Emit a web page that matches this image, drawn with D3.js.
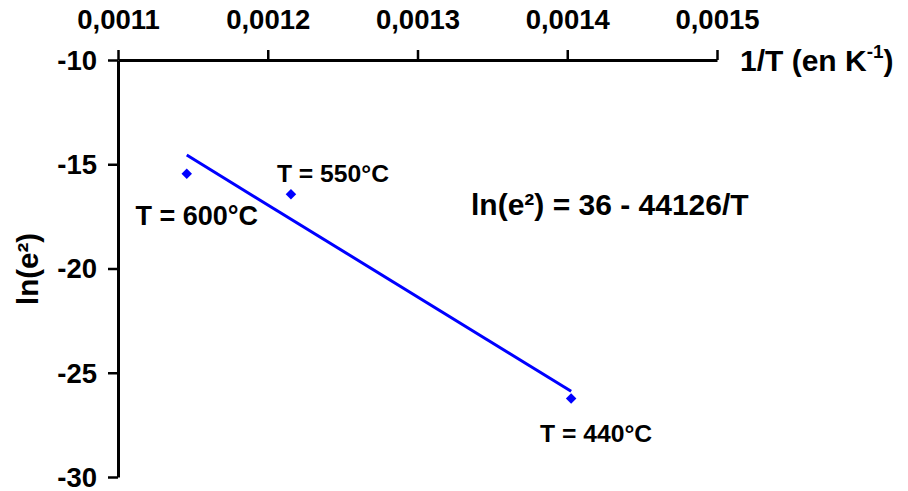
<!DOCTYPE html>
<html><head><meta charset="utf-8">
<script src="https://cdn.jsdelivr.net/npm/d3@7"></script>
<style>body{margin:0;background:#fff} svg text{font-family:"Liberation Sans",Arial,sans-serif;font-weight:bold;fill:#000}</style>
</head><body><svg id="c" width="908" height="491"></svg>
<script>
const tempLabels = ["T = 600°C", "T = 550°C", "T = 440°C"];
const invT = [0.0011459, 0.0012155, 0.0014026];
const lnE2 = [-15.46, -16.44, -26.24];
const trendX = [0.0011459, 0.0014026];
const trendY = [-14.56, -25.89];
const xTicks = [0.0011, 0.0012, 0.0013, 0.0014, 0.0015];
const xTickLabels = ["0,0011", "0,0012", "0,0013", "0,0014", "0,0015"];
const yTicks = [-10, -15, -20, -25, -30];
const yTickLabels = ["-10", "-15", "-20", "-25", "-30"];
const equation = "ln(e²) = 36 - 44126/T";

const svg = d3.select("#c");
const x = d3.scaleLinear().domain([0.0011, 0.0015]).range([118, 717]);
const y = d3.scaleLinear().domain([-10, -30]).range([60, 477]);

// x axis on top
const gx = svg.append("g").attr("transform", `translate(0,${y(-10)})`)
  .call(d3.axisTop(x).tickValues(xTicks).tickFormat((d, i) => xTickLabels[i])
    .tickSize(10).tickSizeOuter(0).tickPadding(21));
// y axis
const gy = svg.append("g").attr("transform", `translate(${x(0.0011)},0)`)
  .call(d3.axisLeft(y).tickValues(yTicks).tickFormat((d, i) => yTickLabels[i])
    .tickSize(10).tickSizeOuter(0).tickPadding(11));
[gx, gy].forEach(g => {
  g.attr("font-family", null).attr("font-size", null);
  g.select(".domain").attr("stroke", "#000").attr("stroke-width", 3);
  g.selectAll(".tick line").attr("stroke", "#000").attr("stroke-width", 2.5);
  g.selectAll(".tick text").style("font-size", "27.5px").attr("fill", "#000");
});
gy.selectAll(".tick text").attr("dy", "0.34em");

// trend line
const pts = trendX.map((v, i) => [v, trendY[i]]);
svg.append("path")
  .attr("d", d3.line().x(d => x(d[0])).y(d => y(d[1]))(pts))
  .attr("fill", "none").attr("stroke", "#0000FF").attr("stroke-width", 3);

// markers
const sym = d3.symbol().type(d3.symbolSquare).size(55);
svg.selectAll(".pt").data(invT).enter().append("path")
  .attr("class", "pt")
  .attr("d", sym)
  .attr("transform", (d, i) => `translate(${x(d)},${y(lnE2[i])}) rotate(45)`)
  .attr("fill", "#0000FF");

// point labels (offsets relative to points)
const labelOff = [[10, 51, 27], [42, -12, 24.7], [25, 43, 24.7]];
svg.selectAll(".lbl").data(tempLabels).enter().append("text")
  .attr("class", "lbl")
  .attr("x", (d, i) => x(invT[i]) + labelOff[i][0])
  .attr("y", (d, i) => y(lnE2[i]) + labelOff[i][1])
  .attr("text-anchor", "middle")
  .style("font-size", (d, i) => labelOff[i][2] + "px")
  .text(d => d);

// equation
svg.append("text").attr("x", 471).attr("y", 215).style("font-size", "30px").text(equation);

// x axis title
const xt = svg.append("text").attr("x", 740).attr("y", 71).style("font-size", "30px");
xt.append("tspan").text("1/T (en K");
xt.append("tspan").attr("dy", -13).style("font-size", "19px").text("-1");
xt.append("tspan").attr("dy", 13).text(")");

// y axis title
svg.append("text").attr("transform", "translate(38,269) rotate(-90)")
  .attr("text-anchor", "middle").style("font-size", "29.5px").text("ln(e²)");
</script></body></html>
